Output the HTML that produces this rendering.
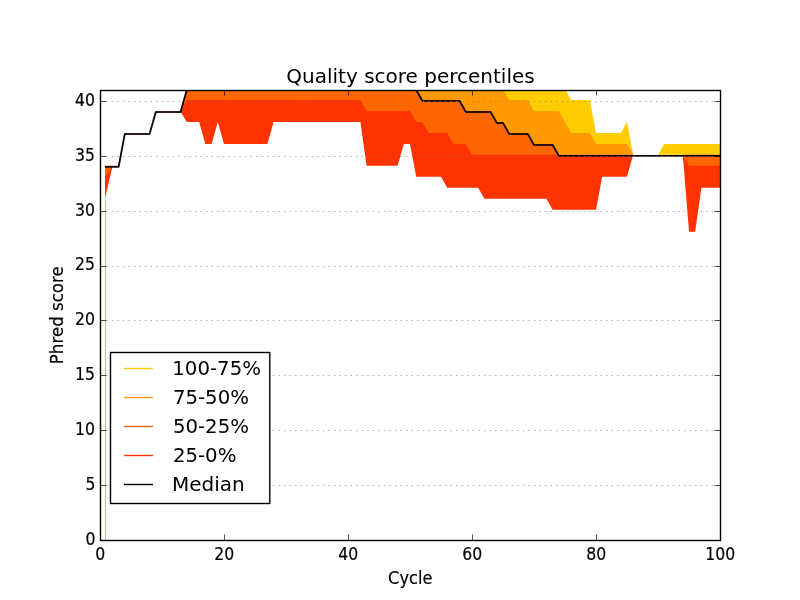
<!DOCTYPE html>
<html lang="en">
<head>
<meta charset="utf-8">
<title>Quality score percentiles</title>
<style>
html,body{margin:0;padding:0;background:#fff;}
body{width:800px;height:600px;overflow:hidden;}
svg{display:block;}
text{font-family:"DejaVu Sans","Liberation Sans",sans-serif;fill:#000;}
.tk text{stroke:#000;stroke-width:0.18px;}
.tk{font-size:16.67px;}
.lg{font-size:20px;}
</style>
</head>
<body>
<svg width="800" height="600" viewBox="0 0 800 600">
<rect x="0" y="0" width="800" height="600" fill="#ffffff"/>
<defs><clipPath id="ax"><rect x="100" y="90" width="620.5" height="450.5"/></clipPath></defs>
<g clip-path="url(#ax)">
<polygon fill="#ffcc00" points="105.00,166.53 112.40,166.53 118.60,166.53 124.80,133.60 131.00,133.60 137.20,133.60 143.40,133.60 149.60,133.60 155.80,111.65 162.00,111.65 168.20,111.65 174.40,111.65 180.60,111.65 186.80,89.00 193.00,89.00 199.20,89.00 205.40,89.00 211.60,89.00 217.80,89.00 224.00,89.00 230.20,89.00 236.40,89.00 242.60,89.00 248.80,89.00 255.00,89.00 261.20,89.00 267.40,89.00 273.60,89.00 279.80,89.00 286.00,89.00 292.20,89.00 298.40,89.00 304.60,89.00 310.80,89.00 317.00,89.00 323.20,89.00 329.40,89.00 335.60,89.00 341.80,89.00 348.00,89.00 354.20,89.00 360.40,89.00 366.60,89.00 372.80,89.00 379.00,89.00 385.20,89.00 391.40,89.00 397.60,89.00 403.80,89.00 410.00,89.00 416.20,89.00 422.40,89.00 428.60,89.00 434.80,89.00 441.00,89.00 447.20,89.00 453.40,89.00 459.60,89.00 465.80,89.00 472.00,89.00 478.20,89.00 484.40,89.00 490.60,89.00 496.80,89.00 503.00,89.00 509.20,89.00 515.40,89.00 521.60,89.00 527.80,89.00 534.00,89.00 540.20,89.00 546.40,89.00 552.60,89.00 558.80,89.00 565.00,89.00 571.20,99.98 577.40,99.98 583.60,99.98 589.80,99.98 596.00,132.90 602.20,132.90 608.40,132.90 614.60,132.90 620.80,132.90 627.00,121.93 633.20,154.85 639.40,154.85 645.60,154.85 651.80,154.85 658.00,154.85 664.20,143.88 670.40,143.88 676.60,143.88 682.80,143.88 689.00,143.88 695.20,143.88 701.40,143.88 707.60,143.88 713.80,143.88 720.00,143.88 720.00,154.85 713.80,154.85 707.60,154.85 701.40,154.85 695.20,154.85 689.00,154.85 682.80,154.85 676.60,154.85 670.40,154.85 664.20,154.85 658.00,154.85 651.80,154.85 645.60,154.85 639.40,154.85 633.20,154.85 627.00,149.37 620.80,149.37 614.60,149.37 608.40,149.37 602.20,149.37 596.00,149.37 589.80,143.88 583.60,143.88 577.40,143.88 571.20,143.88 565.00,138.39 558.80,132.90 552.60,127.41 546.40,127.41 540.20,127.41 534.00,127.41 527.80,116.44 521.60,116.44 515.40,116.44 509.20,116.44 503.00,105.46 496.80,105.46 490.60,99.98 484.40,99.98 478.20,99.98 472.00,99.98 465.80,99.98 459.60,94.49 453.40,94.49 447.20,94.49 441.00,94.49 434.80,94.49 428.60,94.49 422.40,94.49 416.20,89.00 410.00,89.00 403.80,89.00 397.60,89.00 391.40,89.00 385.20,89.00 379.00,89.00 372.80,89.00 366.60,89.00 360.40,89.00 354.20,89.00 348.00,89.00 341.80,89.00 335.60,89.00 329.40,89.00 323.20,89.00 317.00,89.00 310.80,89.00 304.60,89.00 298.40,89.00 292.20,89.00 286.00,89.00 279.80,89.00 273.60,89.00 267.40,89.00 261.20,89.00 255.00,89.00 248.80,89.00 242.60,89.00 236.40,89.00 230.20,89.00 224.00,89.00 217.80,89.00 211.60,89.00 205.40,89.00 199.20,89.00 193.00,89.00 186.80,89.00 180.60,111.65 174.40,111.65 168.20,111.65 162.00,111.65 155.80,111.65 149.60,133.60 143.40,133.60 137.20,133.60 131.00,133.60 124.80,133.60 118.60,166.53 112.40,166.53 105.00,166.53"/>
<polygon fill="#ff9900" points="105.00,166.53 112.40,166.53 118.60,166.53 124.80,133.60 131.00,133.60 137.20,133.60 143.40,133.60 149.60,133.60 155.80,111.65 162.00,111.65 168.20,111.65 174.40,111.65 180.60,111.65 186.80,89.00 193.00,89.00 199.20,89.00 205.40,89.00 211.60,89.00 217.80,89.00 224.00,89.00 230.20,89.00 236.40,89.00 242.60,89.00 248.80,89.00 255.00,89.00 261.20,89.00 267.40,89.00 273.60,89.00 279.80,89.00 286.00,89.00 292.20,89.00 298.40,89.00 304.60,89.00 310.80,89.00 317.00,89.00 323.20,89.00 329.40,89.00 335.60,89.00 341.80,89.00 348.00,89.00 354.20,89.00 360.40,89.00 366.60,89.00 372.80,89.00 379.00,89.00 385.20,89.00 391.40,89.00 397.60,89.00 403.80,89.00 410.00,89.00 416.20,89.00 422.40,89.00 428.60,89.00 434.80,89.00 441.00,89.00 447.20,89.00 453.40,89.00 459.60,89.00 465.80,89.00 472.00,89.00 478.20,89.00 484.40,89.00 490.60,89.00 496.80,89.00 503.00,89.00 509.20,99.98 515.40,99.98 521.60,99.98 527.80,99.98 534.00,110.95 540.20,110.95 546.40,110.95 552.60,110.95 558.80,110.95 565.00,121.93 571.20,132.90 577.40,132.90 583.60,132.90 589.80,132.90 596.00,143.88 602.20,143.88 608.40,143.88 614.60,143.88 620.80,143.88 627.00,143.88 633.20,154.85 639.40,154.85 645.60,154.85 651.80,154.85 658.00,154.85 664.20,154.85 670.40,154.85 676.60,154.85 682.80,154.85 689.00,154.85 695.20,154.85 701.40,154.85 707.60,154.85 713.80,154.85 720.00,154.85 720.00,160.34 713.80,160.34 707.60,160.34 701.40,160.34 695.20,160.34 689.00,160.34 682.80,154.85 676.60,154.85 670.40,154.85 664.20,154.85 658.00,154.85 651.80,154.85 645.60,154.85 639.40,154.85 633.20,154.85 627.00,154.85 620.80,154.85 614.60,154.85 608.40,154.85 602.20,154.85 596.00,154.85 589.80,154.85 583.60,154.85 577.40,154.85 571.20,154.85 565.00,154.85 558.80,154.85 552.60,149.37 546.40,149.37 540.20,149.37 534.00,149.37 527.80,143.88 521.60,143.88 515.40,143.88 509.20,143.88 503.00,138.39 496.80,138.39 490.60,132.90 484.40,132.90 478.20,132.90 472.00,132.90 465.80,127.41 459.60,121.93 453.40,121.93 447.20,116.44 441.00,116.44 434.80,116.44 428.60,116.44 422.40,110.95 416.20,105.46 410.00,99.98 403.80,99.98 397.60,99.98 391.40,99.98 385.20,99.98 379.00,99.98 372.80,99.98 366.60,99.98 360.40,94.49 354.20,94.49 348.00,94.49 341.80,94.49 335.60,94.49 329.40,94.49 323.20,94.49 317.00,94.49 310.80,94.49 304.60,94.49 298.40,94.49 292.20,94.49 286.00,94.49 279.80,94.49 273.60,94.49 267.40,94.49 261.20,94.49 255.00,94.49 248.80,94.49 242.60,94.49 236.40,94.49 230.20,94.49 224.00,94.49 217.80,94.49 211.60,94.49 205.40,94.49 199.20,94.49 193.00,94.49 186.80,94.49 180.60,111.65 174.40,111.65 168.20,111.65 162.00,111.65 155.80,111.65 149.60,133.60 143.40,133.60 137.20,133.60 131.00,133.60 124.80,133.60 118.60,166.53 112.40,166.53 105.00,171.32"/>
<polygon fill="#ff6600" points="105.00,166.53 112.40,166.53 118.60,166.53 124.80,133.60 131.00,133.60 137.20,133.60 143.40,133.60 149.60,133.60 155.80,111.65 162.00,111.65 168.20,111.65 174.40,111.65 180.60,111.65 186.80,89.00 193.00,89.00 199.20,89.00 205.40,89.00 211.60,89.00 217.80,89.00 224.00,89.00 230.20,89.00 236.40,89.00 242.60,89.00 248.80,89.00 255.00,89.00 261.20,89.00 267.40,89.00 273.60,89.00 279.80,89.00 286.00,89.00 292.20,89.00 298.40,89.00 304.60,89.00 310.80,89.00 317.00,89.00 323.20,89.00 329.40,89.00 335.60,89.00 341.80,89.00 348.00,89.00 354.20,89.00 360.40,89.00 366.60,89.00 372.80,89.00 379.00,89.00 385.20,89.00 391.40,89.00 397.60,89.00 403.80,89.00 410.00,89.00 416.20,89.00 422.40,99.98 428.60,99.98 434.80,99.98 441.00,99.98 447.20,99.98 453.40,99.98 459.60,99.98 465.80,110.95 472.00,110.95 478.20,110.95 484.40,110.95 490.60,110.95 496.80,121.93 503.00,121.93 509.20,132.90 515.40,132.90 521.60,132.90 527.80,132.90 534.00,143.88 540.20,143.88 546.40,143.88 552.60,143.88 558.80,154.85 565.00,154.85 571.20,154.85 577.40,154.85 583.60,154.85 589.80,154.85 596.00,154.85 602.20,154.85 608.40,154.85 614.60,154.85 620.80,154.85 627.00,154.85 633.20,154.85 639.40,154.85 645.60,154.85 651.80,154.85 658.00,154.85 664.20,154.85 670.40,154.85 676.60,154.85 682.80,154.85 689.00,154.85 695.20,154.85 701.40,154.85 707.60,154.85 713.80,154.85 720.00,154.85 720.00,176.80 713.80,176.80 707.60,176.80 701.40,176.80 695.20,198.76 689.00,198.76 682.80,154.85 676.60,154.85 670.40,154.85 664.20,154.85 658.00,154.85 651.80,154.85 645.60,154.85 639.40,154.85 633.20,154.85 627.00,165.83 620.80,165.83 614.60,165.83 608.40,165.83 602.20,165.83 596.00,182.29 589.80,182.29 583.60,182.29 577.40,182.29 571.20,182.29 565.00,182.29 558.80,182.29 552.60,182.29 546.40,176.80 540.20,176.80 534.00,176.80 527.80,176.80 521.60,176.80 515.40,176.80 509.20,176.80 503.00,176.80 496.80,176.80 490.60,176.80 484.40,176.80 478.20,171.32 472.00,171.32 465.80,165.83 459.60,165.83 453.40,165.83 447.20,160.34 441.00,154.85 434.80,154.85 428.60,154.85 422.40,149.37 416.20,149.37 410.00,127.41 403.80,127.41 397.60,138.39 391.40,138.39 385.20,138.39 379.00,138.39 372.80,138.39 366.60,138.39 360.40,110.95 354.20,110.95 348.00,110.95 341.80,110.95 335.60,110.95 329.40,110.95 323.20,110.95 317.00,110.95 310.80,110.95 304.60,110.95 298.40,110.95 292.20,110.95 286.00,110.95 279.80,110.95 273.60,110.95 267.40,121.93 261.20,121.93 255.00,121.93 248.80,121.93 242.60,121.93 236.40,121.93 230.20,121.93 224.00,121.93 217.80,110.95 211.60,121.93 205.40,121.93 199.20,110.95 193.00,110.95 186.80,110.95 180.60,111.65 174.40,111.65 168.20,111.65 162.00,111.65 155.80,111.65 149.60,133.60 143.40,133.60 137.20,133.60 131.00,133.60 124.80,133.60 118.60,166.53 112.40,166.53 105.00,187.78"/>
<polygon fill="#ff3300" points="105.00,176.80 112.40,166.53 118.60,166.53 124.80,133.60 131.00,133.60 137.20,133.60 143.40,133.60 149.60,133.60 155.80,111.65 162.00,111.65 168.20,111.65 174.40,111.65 180.60,111.65 186.80,99.98 193.00,99.98 199.20,99.98 205.40,99.98 211.60,99.98 217.80,99.98 224.00,99.98 230.20,99.98 236.40,99.98 242.60,99.98 248.80,99.98 255.00,99.98 261.20,99.98 267.40,99.98 273.60,99.98 279.80,99.98 286.00,99.98 292.20,99.98 298.40,99.98 304.60,99.98 310.80,99.98 317.00,99.98 323.20,99.98 329.40,99.98 335.60,99.98 341.80,99.98 348.00,99.98 354.20,99.98 360.40,99.98 366.60,110.95 372.80,110.95 379.00,110.95 385.20,110.95 391.40,110.95 397.60,110.95 403.80,110.95 410.00,110.95 416.20,121.93 422.40,121.93 428.60,132.90 434.80,132.90 441.00,132.90 447.20,132.90 453.40,143.88 459.60,143.88 465.80,143.88 472.00,154.85 478.20,154.85 484.40,154.85 490.60,154.85 496.80,154.85 503.00,154.85 509.20,154.85 515.40,154.85 521.60,154.85 527.80,154.85 534.00,154.85 540.20,154.85 546.40,154.85 552.60,154.85 558.80,154.85 565.00,154.85 571.20,154.85 577.40,154.85 583.60,154.85 589.80,154.85 596.00,154.85 602.20,154.85 608.40,154.85 614.60,154.85 620.80,154.85 627.00,154.85 633.20,154.85 639.40,154.85 645.60,154.85 651.80,154.85 658.00,154.85 664.20,154.85 670.40,154.85 676.60,154.85 682.80,154.85 689.00,165.83 695.20,165.83 701.40,165.83 707.60,165.83 713.80,165.83 720.00,165.83 720.00,187.78 713.80,187.78 707.60,187.78 701.40,187.78 695.20,231.68 689.00,231.68 682.80,154.85 676.60,154.85 670.40,154.85 664.20,154.85 658.00,154.85 651.80,154.85 645.60,154.85 639.40,154.85 633.20,154.85 627.00,176.80 620.80,176.80 614.60,176.80 608.40,176.80 602.20,176.80 596.00,209.73 589.80,209.73 583.60,209.73 577.40,209.73 571.20,209.73 565.00,209.73 558.80,209.73 552.60,209.73 546.40,198.76 540.20,198.76 534.00,198.76 527.80,198.76 521.60,198.76 515.40,198.76 509.20,198.76 503.00,198.76 496.80,198.76 490.60,198.76 484.40,198.76 478.20,187.78 472.00,187.78 465.80,187.78 459.60,187.78 453.40,187.78 447.20,187.78 441.00,176.80 434.80,176.80 428.60,176.80 422.40,176.80 416.20,176.80 410.00,143.88 403.80,143.88 397.60,165.83 391.40,165.83 385.20,165.83 379.00,165.83 372.80,165.83 366.60,165.83 360.40,121.93 354.20,121.93 348.00,121.93 341.80,121.93 335.60,121.93 329.40,121.93 323.20,121.93 317.00,121.93 310.80,121.93 304.60,121.93 298.40,121.93 292.20,121.93 286.00,121.93 279.80,121.93 273.60,121.93 267.40,143.88 261.20,143.88 255.00,143.88 248.80,143.88 242.60,143.88 236.40,143.88 230.20,143.88 224.00,143.88 217.80,121.93 211.60,143.88 205.40,143.88 199.20,121.93 193.00,121.93 186.80,121.93 180.60,111.65 174.40,111.65 168.20,111.65 162.00,111.65 155.80,111.65 149.60,133.60 143.40,133.60 137.20,133.60 131.00,133.60 124.80,133.60 118.60,166.53 112.40,166.53 105.00,198.76"/>
<rect x="105" y="199.76" width="1" height="340.24" fill="#ffa880"/>
<polyline fill="none" stroke="#7a1c00" stroke-opacity="0.6" stroke-width="1.95" stroke-linejoin="round" points="105.00,166.83 112.40,166.83 118.60,166.83 124.80,133.90 131.00,133.90 137.20,133.90 143.40,133.90 149.60,133.90 155.80,111.95 162.00,111.95 168.20,111.95 174.40,111.95 180.60,111.95 186.80,90.00 193.00,90.00 199.20,90.00 205.40,90.00 211.60,90.00 217.80,90.00 224.00,90.00 230.20,90.00 236.40,90.00 242.60,90.00 248.80,90.00 255.00,90.00 261.20,90.00 267.40,90.00 273.60,90.00 279.80,90.00 286.00,90.00 292.20,90.00 298.40,90.00 304.60,90.00 310.80,90.00 317.00,90.00 323.20,90.00 329.40,90.00 335.60,90.00 341.80,90.00 348.00,90.00 354.20,90.00 360.40,90.00 366.60,90.00 372.80,90.00 379.00,90.00 385.20,90.00 391.40,90.00 397.60,90.00 403.80,90.00 410.00,90.00 416.20,90.00 422.40,100.98 428.60,100.98 434.80,100.98 441.00,100.98 447.20,100.98 453.40,100.98 459.60,100.98 465.80,111.95 472.00,111.95 478.20,111.95 484.40,111.95 490.60,111.95 496.80,122.93 503.00,122.93 509.20,133.90 515.40,133.90 521.60,133.90 527.80,133.90 534.00,144.88 540.20,144.88 546.40,144.88 552.60,144.88 558.80,155.85 565.00,155.85 571.20,155.85 577.40,155.85 583.60,155.85 589.80,155.85 596.00,155.85 602.20,155.85 608.40,155.85 614.60,155.85 620.80,155.85 627.00,155.85 633.20,155.85 639.40,155.85 645.60,155.85 651.80,155.85 658.00,155.85 664.20,155.85 670.40,155.85 676.60,155.85 682.80,155.85 689.00,155.85 695.20,155.85 701.40,155.85 707.60,155.85 713.80,155.85 720.00,155.85"/>
<polyline fill="none" stroke="#000" stroke-width="1.5" stroke-linejoin="round" points="105.00,166.83 112.40,166.83 118.60,166.83 124.80,133.90 131.00,133.90 137.20,133.90 143.40,133.90 149.60,133.90 155.80,111.95 162.00,111.95 168.20,111.95 174.40,111.95 180.60,111.95 186.80,90.00 193.00,90.00 199.20,90.00 205.40,90.00 211.60,90.00 217.80,90.00 224.00,90.00 230.20,90.00 236.40,90.00 242.60,90.00 248.80,90.00 255.00,90.00 261.20,90.00 267.40,90.00 273.60,90.00 279.80,90.00 286.00,90.00 292.20,90.00 298.40,90.00 304.60,90.00 310.80,90.00 317.00,90.00 323.20,90.00 329.40,90.00 335.60,90.00 341.80,90.00 348.00,90.00 354.20,90.00 360.40,90.00 366.60,90.00 372.80,90.00 379.00,90.00 385.20,90.00 391.40,90.00 397.60,90.00 403.80,90.00 410.00,90.00 416.20,90.00 422.40,100.98 428.60,100.98 434.80,100.98 441.00,100.98 447.20,100.98 453.40,100.98 459.60,100.98 465.80,111.95 472.00,111.95 478.20,111.95 484.40,111.95 490.60,111.95 496.80,122.93 503.00,122.93 509.20,133.90 515.40,133.90 521.60,133.90 527.80,133.90 534.00,144.88 540.20,144.88 546.40,144.88 552.60,144.88 558.80,155.85 565.00,155.85 571.20,155.85 577.40,155.85 583.60,155.85 589.80,155.85 596.00,155.85 602.20,155.85 608.40,155.85 614.60,155.85 620.80,155.85 627.00,155.85 633.20,155.85 639.40,155.85 645.60,155.85 651.80,155.85 658.00,155.85 664.20,155.85 670.40,155.85 676.60,155.85 682.80,155.85 689.00,155.85 695.20,155.85 701.40,155.85 707.60,155.85 713.80,155.85 720.00,155.85"/>
</g>
<g stroke="#808080" stroke-width="0.69" stroke-dasharray="1.3889 4.1667" stroke-dashoffset="-0.6" fill="none">
<line x1="100" y1="540.50" x2="720" y2="540.50"/>
<line x1="100" y1="485.50" x2="720" y2="485.50"/>
<line x1="100" y1="430.50" x2="720" y2="430.50"/>
<line x1="100" y1="375.50" x2="720" y2="375.50"/>
<line x1="100" y1="320.50" x2="720" y2="320.50"/>
<line x1="100" y1="266.50" x2="720" y2="266.50"/>
<line x1="100" y1="211.50" x2="720" y2="211.50"/>
<line x1="100" y1="156.50" x2="720" y2="156.50"/>
<line x1="100" y1="101.50" x2="720" y2="101.50"/>
</g>
<g stroke="#000" stroke-width="0.69" fill="none">
<line x1="100" y1="540.50" x2="106.3" y2="540.50"/>
<line x1="720" y1="540.50" x2="714.44" y2="540.50"/>
<line x1="100" y1="485.50" x2="106.3" y2="485.50"/>
<line x1="720" y1="485.50" x2="714.44" y2="485.50"/>
<line x1="100" y1="430.50" x2="106.3" y2="430.50"/>
<line x1="720" y1="430.50" x2="714.44" y2="430.50"/>
<line x1="100" y1="375.50" x2="106.3" y2="375.50"/>
<line x1="720" y1="375.50" x2="714.44" y2="375.50"/>
<line x1="100" y1="320.50" x2="106.3" y2="320.50"/>
<line x1="720" y1="320.50" x2="714.44" y2="320.50"/>
<line x1="100" y1="266.50" x2="106.3" y2="266.50"/>
<line x1="720" y1="266.50" x2="714.44" y2="266.50"/>
<line x1="100" y1="211.50" x2="106.3" y2="211.50"/>
<line x1="720" y1="211.50" x2="714.44" y2="211.50"/>
<line x1="100" y1="156.50" x2="106.3" y2="156.50"/>
<line x1="720" y1="156.50" x2="714.44" y2="156.50"/>
<line x1="100" y1="101.50" x2="106.3" y2="101.50"/>
<line x1="720" y1="101.50" x2="714.44" y2="101.50"/>
<line x1="100.50" y1="540" x2="100.50" y2="534.44"/>
<line x1="100.50" y1="90" x2="100.50" y2="95.56"/>
<line x1="224.50" y1="540" x2="224.50" y2="534.44"/>
<line x1="224.50" y1="90" x2="224.50" y2="95.56"/>
<line x1="348.50" y1="540" x2="348.50" y2="534.44"/>
<line x1="348.50" y1="90" x2="348.50" y2="95.56"/>
<line x1="472.50" y1="540" x2="472.50" y2="534.44"/>
<line x1="472.50" y1="90" x2="472.50" y2="95.56"/>
<line x1="596.50" y1="540" x2="596.50" y2="534.44"/>
<line x1="596.50" y1="90" x2="596.50" y2="95.56"/>
<line x1="720.50" y1="540" x2="720.50" y2="534.44"/>
<line x1="720.50" y1="90" x2="720.50" y2="95.56"/>
</g>
<rect x="100.5" y="90.5" width="620" height="450" fill="none" stroke="#000" stroke-width="1.39"/>
<g class="tk">
<text transform="translate(95.4,544.80) scale(0.94,1.09)" text-anchor="end">0</text>
<text transform="translate(95.4,489.92) scale(0.94,1.09)" text-anchor="end">5</text>
<text transform="translate(94.9,435.04) scale(0.94,1.09)" text-anchor="end">10</text>
<text transform="translate(94.9,380.17) scale(0.94,1.09)" text-anchor="end">15</text>
<text transform="translate(94.9,325.29) scale(0.94,1.09)" text-anchor="end">20</text>
<text transform="translate(94.9,270.41) scale(0.94,1.09)" text-anchor="end">25</text>
<text transform="translate(94.9,215.53) scale(0.94,1.09)" text-anchor="end">30</text>
<text transform="translate(94.9,160.65) scale(0.94,1.09)" text-anchor="end">35</text>
<text transform="translate(94.9,105.78) scale(0.94,1.09)" text-anchor="end">40</text>
<text transform="translate(100.30,559.8) scale(0.94,1.09)" text-anchor="middle">0</text>
<text transform="translate(224.30,559.8) scale(0.94,1.09)" text-anchor="middle">20</text>
<text transform="translate(348.30,559.8) scale(0.94,1.09)" text-anchor="middle">40</text>
<text transform="translate(472.30,559.8) scale(0.94,1.09)" text-anchor="middle">60</text>
<text transform="translate(596.30,559.8) scale(0.94,1.09)" text-anchor="middle">80</text>
<text transform="translate(720.30,559.8) scale(0.94,1.09)" text-anchor="middle">100</text>
<text transform="translate(410.3,584) scale(0.976,1.09)" text-anchor="middle">Cycle</text>
<text transform="translate(62.6,315.2) rotate(-90) scale(1,1.09)" text-anchor="middle">Phred score</text>
</g>
<text class="lg" x="410.5" y="83" text-anchor="middle">Quality score percentiles</text>
<rect x="110.5" y="352.5" width="159.3" height="151" fill="#fff" stroke="#000" stroke-width="1.39"/>
<line x1="124" y1="368.50" x2="153" y2="368.50" stroke="#ffcc00" stroke-width="1.39"/>
<text class="lg" transform="translate(172.3,375.20) scale(0.987,1)">100-75%</text>
<line x1="124" y1="397.50" x2="153" y2="397.50" stroke="#ff9900" stroke-width="1.39"/>
<text class="lg" transform="translate(172.9,404.20) scale(0.987,1)">75-50%</text>
<line x1="124" y1="426.50" x2="153" y2="426.50" stroke="#ff6600" stroke-width="1.39"/>
<text class="lg" transform="translate(172.9,433.20) scale(0.987,1)">50-25%</text>
<line x1="124" y1="455.50" x2="153" y2="455.50" stroke="#ff3300" stroke-width="1.39"/>
<text class="lg" transform="translate(172.9,462.20) scale(0.987,1)">25-0%</text>
<line x1="124" y1="484.50" x2="153" y2="484.50" stroke="#000" stroke-width="1.39"/>
<text class="lg" transform="translate(172.0,491.20) scale(1,1)">Median</text>
</svg>
</body>
</html>
